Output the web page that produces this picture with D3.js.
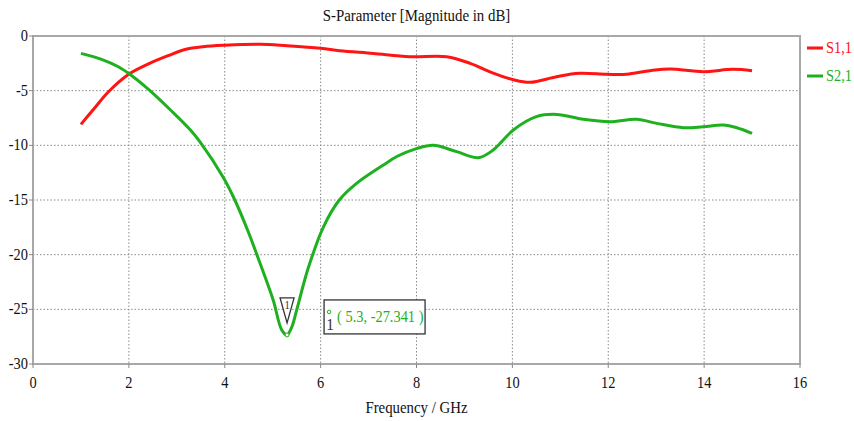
<!DOCTYPE html>
<html lang="en">
<head>
    <meta charset="UTF-8">
    <title>S-Parameter</title>
    <script src="https://cdnjs.cloudflare.com/ajax/libs/d3/7.8.5/d3.min.js"></script>
    <style>
        body { margin: 0; background: #fff; }
    </style>
</head>
<body>
    <div id="chart"></div>
    <script>
        // Data
        const s11Freq = [1.0, 1.29, 1.57, 1.99, 2.41, 2.82, 3.17, 3.55, 4.0, 4.74, 5.3, 6.0, 6.4, 7.1, 7.86, 8.63, 9.12, 9.6, 10.02, 10.37, 10.92, 11.4, 11.97, 12.38, 12.87, 13.29, 13.98, 14.6, 15.0];
        const s11Vals = [-8.08, -6.56, -5.12, -3.52, -2.55, -1.8, -1.24, -0.98, -0.85, -0.76, -0.9, -1.13, -1.34, -1.59, -1.89, -1.89, -2.5, -3.4, -4.0, -4.24, -3.72, -3.41, -3.5, -3.5, -3.17, -3.02, -3.26, -3.05, -3.17];
        const s21Freq = [1.0, 1.43, 1.78, 2.02, 2.41, 2.89, 3.27, 3.48, 3.97, 4.21, 4.49, 4.67, 5.01, 5.19, 5.3, 5.4, 5.5, 5.74, 6.06, 6.39, 6.75, 7.31, 7.6, 8.0, 8.35, 8.84, 9.29, 9.6, 10.02, 10.5, 10.92, 11.48, 12.03, 12.59, 13.01, 13.57, 13.98, 14.4, 14.68, 15.0];
        const s21Vals = [-1.59, -2.13, -2.81, -3.5, -4.88, -6.86, -8.54, -9.67, -12.95, -15.0, -17.9, -20.0, -24.15, -26.9, -27.34, -26.6, -25.07, -21.25, -17.45, -15.0, -13.48, -11.8, -11.0, -10.3, -10.0, -10.58, -11.13, -10.43, -8.6, -7.38, -7.17, -7.62, -7.84, -7.62, -7.99, -8.39, -8.3, -8.14, -8.39, -8.9];
        const xTicks = [0, 2, 4, 6, 8, 10, 12, 14, 16];
        const yTicks = [0, -5, -10, -15, -20, -25, -30];
        const seriesNames = ["S1,1", "S2,1"];
        const seriesColors = ["#ff1414", "#1fb01f"];
        const marker = { f: 5.3, v: -27.341 };

        const width = 854, height = 421;
        const pLeft = 33, pRight = 800, pTop = 36, pBottom = 364;
        const squeeze = 0.9;   // the original text looks narrow
        const fontFam = "Liberation Serif, DejaVu Serif, serif";

        const svg = d3.select("#chart").append("svg")
            .attr("width", width)
            .attr("height", height);

        const x = d3.scaleLinear().domain([0, 16]).range([pLeft, pRight]);
        const y = d3.scaleLinear().domain([-30, 0]).range([pBottom, pTop]);

        function label(txt, px, py, anchor, size, color) {
            return svg.append("text")
                .attr("transform", `translate(${px},${py}) scale(${squeeze},1)`)
                .attr("text-anchor", anchor)
                .attr("font-family", fontFam)
                .attr("font-size", size)
                .attr("fill", color || "#111")
                .text(txt);
        }

        // grid
        svg.append("g").selectAll("line").data(xTicks.slice(1, -1)).join("line")
            .attr("x1", d => x(d)).attr("x2", d => x(d))
            .attr("y1", pTop).attr("y2", pBottom)
            .attr("stroke", "#8a8a8a").attr("stroke-width", 1)
            .attr("stroke-dasharray", "1.5,2");
        svg.append("g").selectAll("line").data(yTicks.slice(1, -1)).join("line")
            .attr("x1", pLeft).attr("x2", pRight)
            .attr("y1", d => y(d)).attr("y2", d => y(d))
            .attr("stroke", "#8a8a8a").attr("stroke-width", 1)
            .attr("stroke-dasharray", "1.5,2");

        // frame
        svg.append("rect")
            .attr("x", pLeft).attr("y", pTop)
            .attr("width", pRight - pLeft).attr("height", pBottom - pTop)
            .attr("fill", "none").attr("stroke", "#a8a8a8").attr("stroke-width", 2);

        // tick marks
        svg.append("g").selectAll("line").data(xTicks).join("line")
            .attr("x1", d => x(d)).attr("x2", d => x(d))
            .attr("y1", pBottom).attr("y2", pBottom + 4)
            .attr("stroke", "#888");
        svg.append("g").selectAll("line").data(yTicks).join("line")
            .attr("x1", pLeft - 4).attr("x2", pLeft)
            .attr("y1", d => y(d)).attr("y2", d => y(d))
            .attr("stroke", "#888");

        // tick labels
        xTicks.forEach(d => label(d, x(d), pBottom + 24, "middle", 16));
        yTicks.forEach(d => label(d, pLeft - 5, y(d) + 5, "end", 16));

        // titles
        label("S-Parameter [Magnitude in dB]", (pLeft + pRight) / 2, 21, "middle", 16.5);
        label("Frequency / GHz", (pLeft + pRight) / 2, 413, "middle", 16.5);

        // curves
        const line = d3.line()
            .x(d => x(d[0]))
            .y(d => y(d[1]))
            .curve(d3.curveCatmullRom.alpha(0.5));

        const series = [
            d3.zip(s11Freq, s11Vals),
            d3.zip(s21Freq, s21Vals)
        ];
        series.forEach((pts, i) => {
            svg.append("path")
                .datum(pts)
                .attr("d", line)
                .attr("fill", "none")
                .attr("stroke", seriesColors[i])
                .attr("stroke-width", 3)
                .attr("stroke-linejoin", "round");
        });

        // legend
        seriesNames.forEach((name, i) => {
            const ly = 48 + i * 28;
            svg.append("line")
                .attr("x1", 807).attr("x2", 823)
                .attr("y1", ly).attr("y2", ly)
                .attr("stroke", seriesColors[i]).attr("stroke-width", 3);
            label(name, 826, ly + 5, "start", 16, seriesColors[i]);
        });

        // marker
        const mx = x(marker.f), my = y(marker.v);
        svg.append("circle")
            .attr("cx", mx).attr("cy", my).attr("r", 2)
            .attr("fill", "#fff").attr("stroke", seriesColors[1]).attr("stroke-width", 1);
        svg.append("path")
            .attr("d", `M${mx - 7},${my - 37} L${mx + 7},${my - 37} L${mx},${my - 12} Z`)
            .attr("fill", "#fff").attr("stroke", "#333").attr("stroke-width", 1.3);
        label("1", mx, my - 26, "middle", 12, "#333");

        const bx = mx + 37, by = my - 35;
        svg.append("rect")
            .attr("x", bx).attr("y", by)
            .attr("width", 101).attr("height", 34)
            .attr("fill", "#fff").attr("stroke", "#333").attr("stroke-width", 1.3);
        svg.append("circle")
            .attr("cx", bx + 5).attr("cy", by + 12).attr("r", 1.8)
            .attr("fill", "none").attr("stroke", seriesColors[1]);
        label("1", bx + 6, by + 30, "middle", 17, "#333");
        label(`( ${marker.f}, ${marker.v} )`, bx + 13, by + 22, "start", 16, seriesColors[1]);
    </script>
</body>
</html>
